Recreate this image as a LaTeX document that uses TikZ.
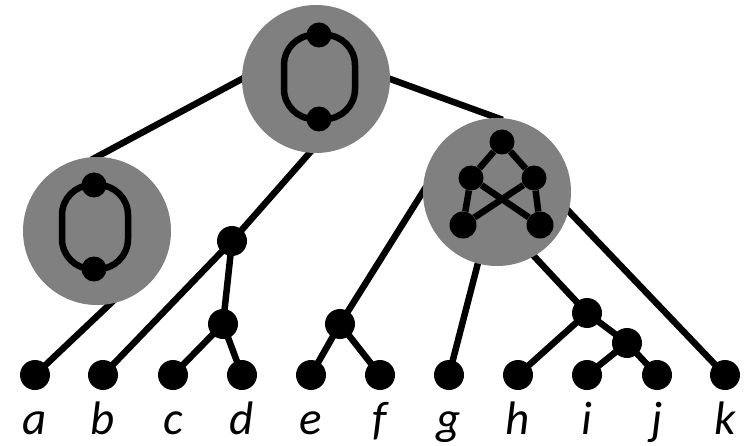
\documentclass[tikz,border=0pt]{standalone}
\usepackage{fontspec}
\newfontfamily\leaffont{Carlito}
\usetikzlibrary{backgrounds}
\definecolor{ClusterGray}{HTML}{808080}
\tikzset{
  cluster/.style={circle,fill=ClusterGray,minimum size=148pt,inner sep=0pt},
  leafdot/.style={circle,fill=black,minimum size=30pt,inner sep=0pt},
  innerdot/.style={circle,fill=black,minimum size=25pt,inner sep=0pt},
  treeedge/.style={line width=6.5pt,shorten <=-6pt,shorten >=-6pt},
  inneredge/.style={line width=6.5pt},
  loopedge/.style={line width=6.5pt,rounded corners=30pt},
  leaflabel/.style={anchor=base,inner sep=0pt,font=\leaffont\itshape\fontsize{47}{50}\selectfont}
}

\begin{document}
\begin{tikzpicture}[x=1pt,y=1pt]
\useasboundingbox (0,0) rectangle (751,-446);
% grey clusters
\node[cluster] (tc) at (316,-79) {};
\node[cluster] (lc) at (97,-231) {};
\node[cluster] (rc) at (497,-192) {};
% leaves and their letters
\foreach \name/\x in {a/35,b/103,c/173,d/242,e/311,f/380,g/449,h/518,i/587,j/657,k/725}{
  \node[leafdot] (\name) at (\x,-375) {};
  \node[leaflabel] (lbl\name) at (\x,-434) {\name};
}
% inner tree nodes
\node[leafdot] (bcd) at (232,-241) {};
\node[leafdot] (cd) at (223,-324) {};
\node[leafdot] (ef) at (340,-324) {};
\node[leafdot] (hij) at (587,-313) {};
\node[leafdot] (ij) at (627,-343) {};
% graphs inside the clusters
\node[innerdot] (tt) at (319,-35) {};
\node[innerdot] (tb) at (319,-119) {};
\node[innerdot] (lt) at (94,-185) {};
\node[innerdot] (lb) at (94,-269) {};
\node[innerdot] (r1) at (502,-142) {};
\node[innerdot] (r2) at (471,-178) {};
\node[innerdot] (r3) at (534,-178) {};
\node[innerdot,minimum size=27pt] (r4) at (463,-225) {};
\node[innerdot,minimum size=27pt] (r5) at (540,-225) {};
\draw[loopedge] (tt.center) -- ++(36,0) |- (tb.center);
\draw[loopedge] (tt.center) -- ++(-35,0) |- (tb.center);
\draw[loopedge] (lt.center) -- ++(34,0) |- (lb.center);
\draw[loopedge] (lt.center) -- ++(-32,0) |- (lb.center);
\draw[inneredge] (r1) -- (r2);
\draw[inneredge] (r1) -- (r3);
\draw[inneredge] (r2) -- (r4);
\draw[inneredge] (r3) -- (r5);
\draw[inneredge] (r2) -- (r5);
\draw[inneredge] (r3) -- (r4);
% tree edges
\begin{scope}[on background layer]
\draw[treeedge] (lc.north) -- (tc.west);
\draw[treeedge] (tc.east) -- (rc.north);
\draw[treeedge] (a) -- (lc.-80);
\draw[treeedge] (b) -- (bcd);
\draw[treeedge] (bcd) -- (tc.-95);
\draw[treeedge] (bcd) -- (cd);
\draw[treeedge] (cd) -- (c);
\draw[treeedge] (cd) -- (d);
\draw[treeedge] (ef) -- (rc.west);
\draw[treeedge] (ef) -- (e);
\draw[treeedge] (ef) -- (f);
\draw[treeedge] (g) -- (rc.-105);
\draw[treeedge] (hij) -- (rc.-60);
\draw[treeedge] (hij) -- (h);
\draw[treeedge] (hij) -- (ij);
\draw[treeedge] (ij) -- (i);
\draw[treeedge] (ij) -- (j);
\draw[treeedge] (k) -- (rc.-15);
\end{scope}
\end{tikzpicture}
\end{document}
